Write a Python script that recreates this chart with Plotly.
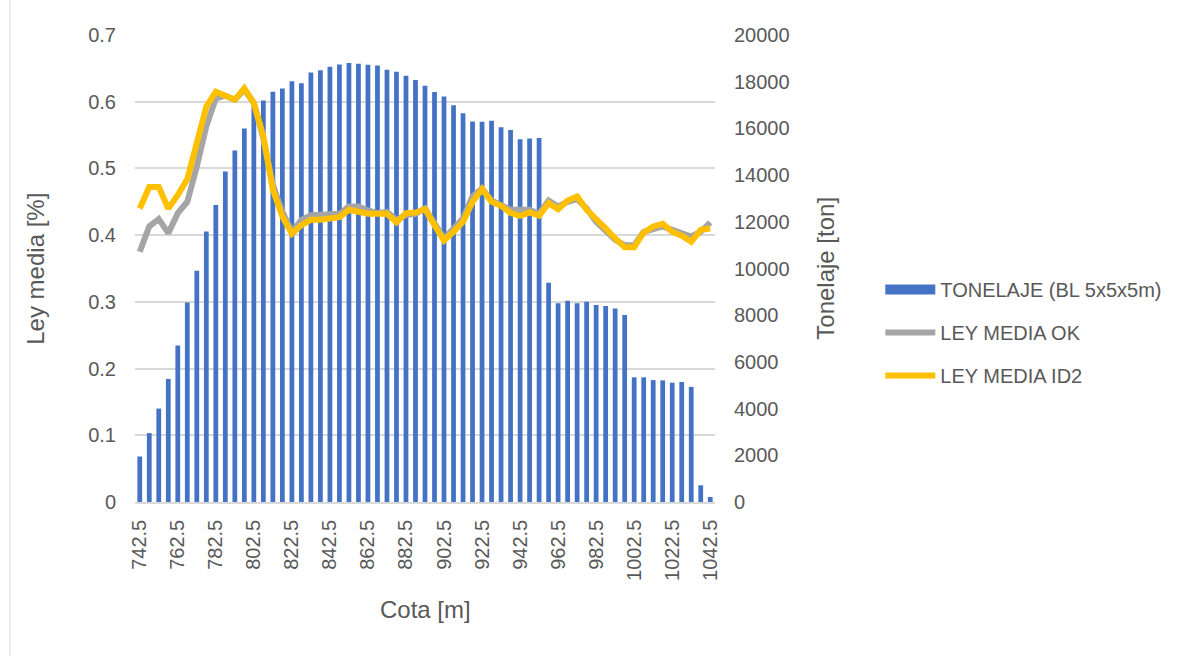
import plotly.graph_objects as go

# Elevation benches (m)
cota = [742.5 + 5 * i for i in range(61)]
cota_labels = [f"{c:.1f}" for c in cota]

# Tonnage per bench (blocks 5x5x5 m)
tonelaje = [
    1950, 2950, 4000, 5270, 6700, 8540, 9900, 11580, 12720, 14150,
    15050, 16000, 16950, 17200, 17570, 17710, 18020, 17930, 18390, 18490,
    18640, 18740, 18800, 18770, 18730, 18690, 18510, 18430, 18260, 18070,
    17830, 17560, 17370, 16990, 16650, 16300, 16290, 16330, 16050, 15930,
    15530, 15570, 15590, 9390, 8510, 8620, 8510, 8580, 8440, 8390,
    8290, 8010, 5340, 5340, 5220, 5210, 5110, 5140, 4930, 715,
    215,
]

# Mean grade, ordinary kriging
ley_ok = [
    0.375, 0.413, 0.424, 0.403, 0.433, 0.450, 0.503, 0.563, 0.605, 0.609,
    0.603, 0.618, 0.598, 0.545, 0.475, 0.435, 0.405, 0.423, 0.430, 0.430,
    0.430, 0.432, 0.443, 0.443, 0.437, 0.433, 0.435, 0.423, 0.430, 0.432,
    0.440, 0.418, 0.395, 0.410, 0.425, 0.458, 0.470, 0.452, 0.445, 0.438,
    0.438, 0.438, 0.432, 0.452, 0.443, 0.450, 0.454, 0.440, 0.420, 0.405,
    0.393, 0.385, 0.385, 0.405, 0.410, 0.413, 0.408, 0.404, 0.398, 0.405,
    0.419,
]

# Mean grade, inverse distance squared
ley_id2 = [
    0.440, 0.472, 0.472, 0.440, 0.460, 0.484, 0.538, 0.593, 0.615, 0.610,
    0.603, 0.620, 0.598, 0.548, 0.468, 0.428, 0.402, 0.415, 0.423, 0.423,
    0.426, 0.427, 0.438, 0.435, 0.432, 0.432, 0.432, 0.419, 0.433, 0.434,
    0.439, 0.415, 0.392, 0.405, 0.420, 0.450, 0.469, 0.450, 0.444, 0.433,
    0.429, 0.434, 0.429, 0.448, 0.439, 0.452, 0.458, 0.438, 0.425, 0.410,
    0.395, 0.382, 0.382, 0.404, 0.413, 0.417, 0.405, 0.399, 0.390, 0.408,
    0.410,
]

FONT = "Liberation Sans"
TXT = "#595959"
GRID = "#D9D9D9"
BLUE = "#4472C4"

fig = go.Figure()

# Bars on the primary axis (drawn underneath), grades on the overlay axis
fig.add_trace(go.Bar(
    x=cota_labels, y=tonelaje, name="TONELAJE (BL 5x5x5m)",
    marker=dict(color=BLUE, line=dict(width=0)),
    yaxis="y", legendgroup="a", showlegend=False,
))
# Legend entry for the bars with a wide rectangular swatch
fig.add_trace(go.Scatter(
    x=[None], y=[None], name="TONELAJE (BL 5x5x5m)", mode="lines",
    line=dict(color=BLUE, width=12), yaxis="y", legendgroup="a",
))
fig.add_trace(go.Scatter(
    x=cota_labels, y=ley_ok, name="LEY MEDIA OK", mode="lines",
    line=dict(color="#A5A5A5", width=6, shape="linear"),
    yaxis="y2", legendgroup="b",
))
fig.add_trace(go.Scatter(
    x=cota_labels, y=ley_id2, name="LEY MEDIA ID2", mode="lines",
    line=dict(color="#FFC000", width=6, shape="linear"),
    yaxis="y2", legendgroup="c",
))

fig.update_layout(
    width=1185, height=656,
    margin=dict(l=135, r=470, t=35, b=154, autoexpand=False),
    paper_bgcolor="white", plot_bgcolor="white",
    font=dict(family=FONT, size=20, color=TXT),
    bargap=0.5,
    showlegend=True,
    legend=dict(
        x=1.285, y=0.497, xanchor="left", yanchor="top",
        font=dict(family=FONT, size=20, color=TXT),
        tracegroupgap=14, itemwidth=50,
        bgcolor="rgba(0,0,0,0)",
    ),
    xaxis=dict(
        type="category",
        tickmode="array", tickvals=cota_labels[::4], ticktext=cota_labels[::4],
        tickangle=-90, ticks="", ticklabelstandoff=8,
        showgrid=False, showline=True, linecolor=GRID, linewidth=1.5,
        tickfont=dict(family=FONT, size=20, color=TXT),
        range=[-0.5, 60.5],
    ),
    yaxis=dict(
        side="right", range=[0, 20000], dtick=2000, tick0=0,
        tickformat="d", ticks="", ticklabelstandoff=18,
        showgrid=False, zeroline=False, showline=False,
        tickfont=dict(family=FONT, size=20, color=TXT),
    ),
    yaxis2=dict(
        overlaying="y", side="left", range=[0, 0.7], dtick=0.1, tick0=0,
        ticks="", ticklabelstandoff=18,
        showgrid=True, gridcolor=GRID, gridwidth=1.5,
        zeroline=False, showline=False,
        tickfont=dict(family=FONT, size=20, color=TXT),
    ),
    annotations=[
        dict(text="Cota [m]", xref="paper", yref="paper", x=0.5, y=-0.231,
             xanchor="center", yanchor="middle", showarrow=False,
             font=dict(family=FONT, size=24, color=TXT)),
        dict(text="Ley media [%]", xref="paper", yref="paper", x=-0.172, y=0.5,
             xanchor="center", yanchor="middle", showarrow=False, textangle=-90,
             font=dict(family=FONT, size=24, color=TXT)),
        dict(text="Tonelaje [ton]", xref="paper", yref="paper", x=1.19, y=0.5,
             xanchor="center", yanchor="middle", showarrow=False, textangle=-90,
             font=dict(family=FONT, size=24, color=TXT)),
    ],
    shapes=[
        dict(type="line", xref="paper", yref="paper",
             x0=-0.2155, x1=-0.2155, y0=-0.33, y1=1.075,
             line=dict(color=GRID, width=1)),
    ],
)

fig.write_html("out.html")
